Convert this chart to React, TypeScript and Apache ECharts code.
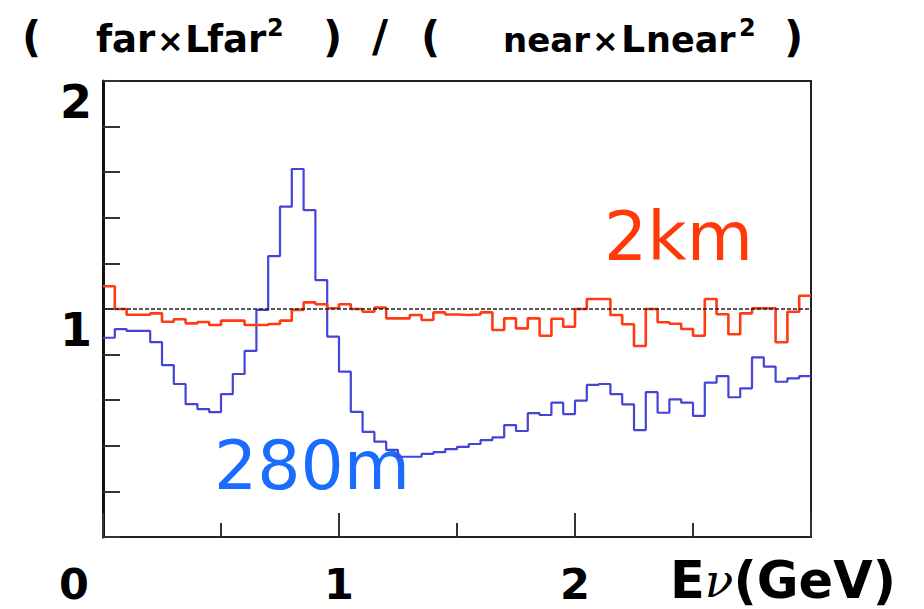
import React, { useEffect, useRef } from "react";
import * as echarts from "echarts";

// Histogram bin width (GeV) and axis tick labels
const binWidth = 0.05;
const xTickLabels = ["0", "1", "2"];
const yTickLabels = ["1", "2"];

// 280 m ratio (blue), 60 bins of 0.05 GeV from 0 to 3 GeV
const ratio280m = [
  0.874, 0.912, 0.904, 0.904, 0.855, 0.754, 0.671, 0.583, 0.561, 0.548,
  0.627, 0.715, 0.816, 0.996, 1.232, 1.449, 1.614, 1.434, 1.127, 0.879,
  0.725, 0.549, 0.461, 0.418, 0.382, 0.352, 0.352, 0.365, 0.372, 0.385,
  0.395, 0.408, 0.425, 0.437, 0.491, 0.465, 0.543, 0.535, 0.589, 0.539,
  0.598, 0.667, 0.671, 0.627, 0.582, 0.469, 0.635, 0.545, 0.604, 0.589,
  0.531, 0.677, 0.706, 0.613, 0.652, 0.788, 0.747, 0.681, 0.696, 0.706,
];

// 2 km ratio (red)
const ratio2km = [
  1.1, 1.0, 0.975, 0.975, 0.981, 0.944, 0.955, 0.937, 0.943, 0.93,
  0.949, 0.949, 0.93, 0.93, 0.934, 0.949, 0.996, 1.029, 1.021, 1.003,
  1.021, 1.0, 0.988, 1.006, 0.959, 0.959, 0.974, 0.952, 0.985, 0.976,
  0.974, 0.976, 0.985, 0.908, 0.959, 0.915, 0.959, 0.883, 0.957, 0.922,
  1.0, 1.044, 1.044, 0.974, 0.933, 0.838, 1.0, 0.942, 0.935, 0.912,
  0.883, 1.044, 0.977, 0.889, 0.981, 1.003, 1.003, 0.854, 0.988, 1.058,
];

const referenceLevel = 1;

function toSteps(values: number[]): [number, number][] {
  const pts: [number, number][] = values.map((v, i) => [
    +(i * binWidth).toFixed(4),
    v,
  ]);
  pts.push([+(values.length * binWidth).toFixed(4), values[values.length - 1]]);
  return pts;
}

const BOLD = "DejaVu Sans";

// place a text so that its alphabetic baseline sits at `baseline`
function textAt(
  text: string,
  x: number,
  baseline: number,
  size: number,
  fill: string,
  weight: string,
  family = BOLD
) {
  return {
    type: "text",
    x,
    y: baseline - 0.346 * size,
    style: {
      text,
      fontFamily: family,
      fontWeight: weight,
      fontSize: size,
      lineHeight: size,
      fill,
      verticalAlign: "middle",
      align: "left",
    },
  };
}

export default function App() {
  const ref = useRef<HTMLDivElement>(null);

  useEffect(() => {
    if (!ref.current) return;
    const chart = echarts.init(ref.current, undefined, { renderer: "svg" });

    const TB = 52; // title baseline
    const titleParts: { t: string; x: number; size: number; dy: number }[] = [
      { t: "(", x: 22, size: 42, dy: 0 },
      { t: "far", x: 96, size: 37, dy: 0 },
      { t: "×", x: 157, size: 32, dy: 0 },
      { t: "L", x: 185, size: 38, dy: 0 },
      { t: "far", x: 207, size: 37, dy: 0 },
      { t: "2", x: 267, size: 24, dy: -16 },
      { t: ")", x: 323, size: 42, dy: 0 },
      { t: "/", x: 372, size: 44, dy: 0 },
      { t: "(", x: 421, size: 42, dy: 0 },
      { t: "near", x: 503, size: 34, dy: 0 },
      { t: "×", x: 592, size: 32, dy: 0 },
      { t: "L", x: 621, size: 38, dy: 0 },
      { t: "near", x: 646, size: 35, dy: 0 },
      { t: "2", x: 739, size: 24, dy: -16 },
      { t: ")", x: 784, size: 42, dy: 0 },
    ];

    chart.setOption({
      animation: false,
      backgroundColor: "#ffffff",
      grid: {
        left: 103,
        right: 113,
        top: 81,
        bottom: 72,
        show: true,
        borderColor: "#222",
        borderWidth: 2,
        containLabel: false,
      },
      xAxis: {
        type: "value",
        min: 0,
        max: 3,
        interval: 1,
        axisLine: { show: true, onZero: false, lineStyle: { color: "#222", width: 2 } },
        axisTick: { show: true, inside: true, length: 24, lineStyle: { color: "#333", width: 2 } },
        minorTick: { show: true, splitNumber: 2, length: 14, lineStyle: { color: "#333", width: 2 } },
        splitLine: { show: false },
        axisLabel: {
          margin: 29,
          fontFamily: BOLD,
          fontWeight: "bold",
          fontSize: 43,
          lineHeight: 36,
          color: "#000",
          formatter: (v: number) => {
            const idx = Math.round(v);
            if (Math.abs(v - idx) > 1e-6 || idx >= xTickLabels.length) return "";
            if (idx === 0) return "{z|" + xTickLabels[0] + "}";
            return xTickLabels[idx];
          },
          rich: {
            z: {
              fontFamily: BOLD,
              fontWeight: "bold",
              fontSize: 43,
              lineHeight: 36,
              color: "#000",
              padding: [0, 58, 0, 0],
            },
          },
        },
      },
      yAxis: {
        type: "value",
        min: 0,
        max: 2,
        interval: 0.2,
        axisLine: { show: true, lineStyle: { color: "#111", width: 3 } },
        axisTick: { show: true, inside: true, length: 17, lineStyle: { color: "#333", width: 2 } },
        splitLine: { show: false },
        axisLabel: {
          margin: 11,
          fontFamily: BOLD,
          fontWeight: "bold",
          fontSize: 46,
          lineHeight: 46,
          color: "#000",
          verticalAlign: "top",
          padding: [-2, 0, 0, 0],
          formatter: (v: number) => {
            const s = String(Math.round(v * 10) / 10);
            return yTickLabels.includes(s) ? s : "";
          },
        },
      },
      series: [
        {
          name: "ref",
          type: "line",
          data: [],
          z: 1,
          markLine: {
            silent: true,
            symbol: "none",
            label: { show: false },
            lineStyle: { color: "#222", type: [4, 2], width: 1.5 },
            data: [{ yAxis: referenceLevel }],
          },
        },
        {
          name: "280m",
          type: "line",
          step: "end",
          showSymbol: false,
          z: 3,
          lineStyle: { color: "#4444d6", width: 2.2 },
          data: toSteps(ratio280m),
        },
        {
          name: "2km",
          type: "line",
          step: "end",
          showSymbol: false,
          z: 4,
          lineStyle: { color: "#ff3b14", width: 2.6 },
          data: toSteps(ratio2km),
        },
      ],
      graphic: [
        ...titleParts.map((p) =>
          textAt(p.t, p.x, TB + p.dy, p.size, "#000", "bold")
        ),
        textAt("2km", 604, 260, 68, "#ff3a0a", "normal", "DejaVu Sans"),
        textAt("280m", 214, 489, 68, "#1a6cff", "normal", "DejaVu Sans"),
        {
          type: "text",
          x: 670,
          y: 598 - 0.346 * 51,
          style: {
            text: "E{nu|ν}(GeV)",
            fontFamily: BOLD,
            fontWeight: "bold",
            fontSize: 51,
            lineHeight: 40,
            fill: "#000",
            verticalAlign: "middle",
            align: "left",
            rich: {
              nu: {
                fontFamily: "DejaVu Serif",
                fontStyle: "italic",
                fontWeight: "normal",
                fontSize: 47,
                lineHeight: 40,
                fill: "#000",
              },
            },
          },
        },
      ],
    });

    return () => chart.dispose();
  }, []);

  return (
    <div
      ref={ref}
      style={{ position: "fixed", left: 0, top: 0, width: 924, height: 609 }}
    />
  );
}
